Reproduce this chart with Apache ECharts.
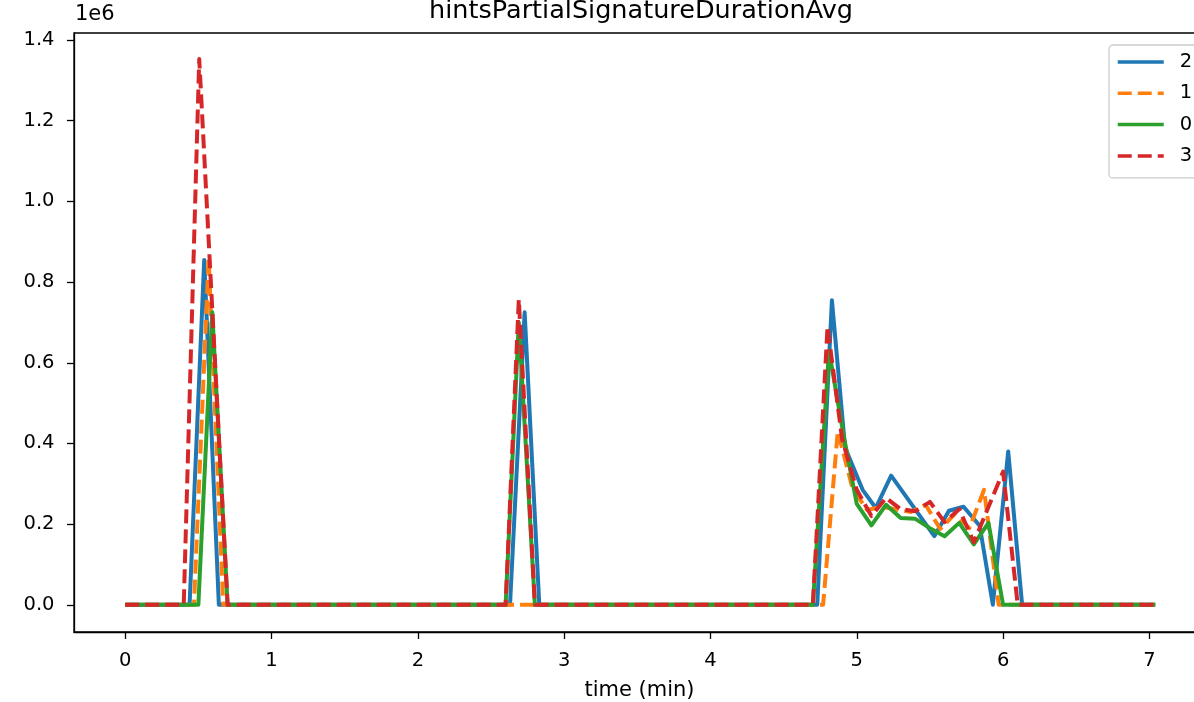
<!DOCTYPE html>
<html>
<head>
<meta charset="utf-8">
<script src="https://cdn.jsdelivr.net/npm/echarts@6/dist/echarts.min.js"></script>
<style>
html,body{margin:0;padding:0;background:#fff;}
#chart{width:1194px;height:702px;}
</style>
</head>
<body>
<div id="chart"></div>
<script>
// ---- data (time in minutes, values in raw units; axis shown in 1e6) ----
const seriesNames = ['2', '1', '0', '3'];

const t2 = [0, 0.44, 0.54, 0.64, 2.63, 2.73, 2.83, 4.73, 4.83, 4.92, 5.04, 5.13, 5.235, 5.53, 5.63, 5.73, 5.84, 5.93, 6.035, 6.13, 7.04];
const v2 = [0, 0, 855000, 0, 0, 725000, 0, 0, 755000, 390000, 285000, 240000, 320000, 170000, 233000, 243000, 196000, 0, 380000, 0, 0];

const t1 = [0, 0.47, 0.57, 0.67, 4.77, 4.87, 4.97, 5.07, 5.17, 5.27, 5.37, 5.47, 5.57, 5.67, 5.77, 5.87, 5.97, 7.04];
const v1 = [0, 0, 860000, 0, 0, 430000, 290000, 235000, 243000, 236000, 230000, 248000, 188000, 225000, 190000, 285000, 0, 0];

const t0 = [0, 0.50, 0.595, 0.70, 2.60, 2.69, 2.80, 4.70, 4.81, 4.91, 5.00, 5.10, 5.20, 5.30, 5.40, 5.50, 5.60, 5.70, 5.80, 5.90, 6.00, 7.04];
const v0 = [0, 0, 725000, 0, 0, 700000, 0, 0, 630000, 420000, 250000, 197000, 248000, 215000, 213000, 190000, 170000, 203000, 150000, 203000, 0, 0];

const t3 = [0, 0.40, 0.506, 0.70, 2.60, 2.69, 2.80, 4.70, 4.80, 4.90, 5.00, 5.10, 5.20, 5.30, 5.40, 5.50, 5.60, 5.70, 5.80, 6.00, 6.10, 7.04];
const v3 = [0, 0, 1353000, 0, 0, 757000, 0, 0, 690000, 410000, 285000, 220000, 265000, 237000, 232000, 255000, 205000, 237000, 155000, 330000, 0, 0];

const xTicks = [0, 1, 2, 3, 4, 5, 6, 7];
const yTicks = [0, 200000, 400000, 600000, 800000, 1000000, 1200000, 1400000];

const titleText = 'hintsPartialSignatureDurationAvg';
const xLabel = 'time (min)';
const offsetText = '1e6';

// ---- chart ----
const FONT = 'DejaVu Sans';
const colors = ['#1f77b4', '#ff7f0e', '#2ca02c', '#d62728'];
const styles = ['solid', [14, 6], 'solid', [14, 6]];
const times = [t2, t1, t0, t3];
const vals = [v2, v1, v0, v3];
const LW = 4;

const chart = echarts.init(document.getElementById('chart'), null, {renderer: 'canvas'});

const series = seriesNames.map((name, k) => ({
  name: name,
  type: 'line',
  data: times[k].map((x, i) => [x, vals[k][i]]),
  symbol: 'none',
  showSymbol: false,
  lineStyle: {color: colors[k], width: LW, type: styles[k], cap: 'butt', join: 'round'},
  itemStyle: {color: colors[k]},
  emphasis: {disabled: true},
  animation: false
}));

chart.setOption({
  animation: false,
  backgroundColor: '#fff',
  textStyle: {fontFamily: FONT},
  title: {
    text: titleText,
    left: 636, textAlign: 'center',
    top: -7,
    textStyle: {fontFamily: FONT, fontSize: 25.5, fontWeight: 'normal', color: '#000'}
  },
  grid: {
    left: 74, top: 33, width: 1131, height: 599,
    outerBoundsMode: 'none',
    show: true, borderColor: '#000', borderWidth: 1.3, backgroundColor: 'transparent',
    containLabel: false
  },
  legend: {
    orient: 'vertical',
    left: 1109, top: 45,
    padding: [7, 14, 12, 7],
    itemWidth: 46, itemHeight: 14, itemGap: 11.3,
    backgroundColor: 'rgba(255,255,255,0.8)',
    borderColor: '#cccccc', borderWidth: 1.3, borderRadius: 4,
    itemStyle: {opacity: 0},
    lineStyle: {width: 3.5},
    textStyle: {fontFamily: FONT, fontSize: 19.5, color: '#000', lineHeight: 20, padding: [0, 0, 0, 11]},
    data: seriesNames,
    selectedMode: false
  },
  xAxis: {
    type: 'value',
    min: -0.35, max: 7.38,
    name: xLabel, nameLocation: 'middle', nameGap: 48,
    nameTextStyle: {fontFamily: FONT, fontSize: 21, color: '#000'},
    axisLine: {show: true, onZero: false, lineStyle: {color: '#000', width: 1.3}},
    axisTick: {show: true, length: 7, customValues: xTicks, lineStyle: {color: '#000', width: 1.3}},
    axisLabel: {customValues: xTicks, margin: 19, fontFamily: FONT, fontSize: 19.5, color: '#000',
      formatter: v => String(Math.round(v))},
    splitLine: {show: false}
  },
  yAxis: {
    type: 'value',
    min: -67500, max: 1417500,
    axisLine: {show: true, onZero: false, lineStyle: {color: '#000', width: 1.3}},
    axisTick: {show: true, length: 7, customValues: yTicks, lineStyle: {color: '#000', width: 1.3}},
    axisLabel: {customValues: yTicks, margin: 19.5, fontFamily: FONT, fontSize: 19.5, color: '#000',
      formatter: v => (v / 1e6).toFixed(1)},
    splitLine: {show: false}
  },
  graphic: [{
    type: 'text', left: 75, top: 4,
    style: {text: offsetText, font: '21px "DejaVu Sans"', fill: '#000'}
  }],
  series: series
});
</script>
</body>
</html>
